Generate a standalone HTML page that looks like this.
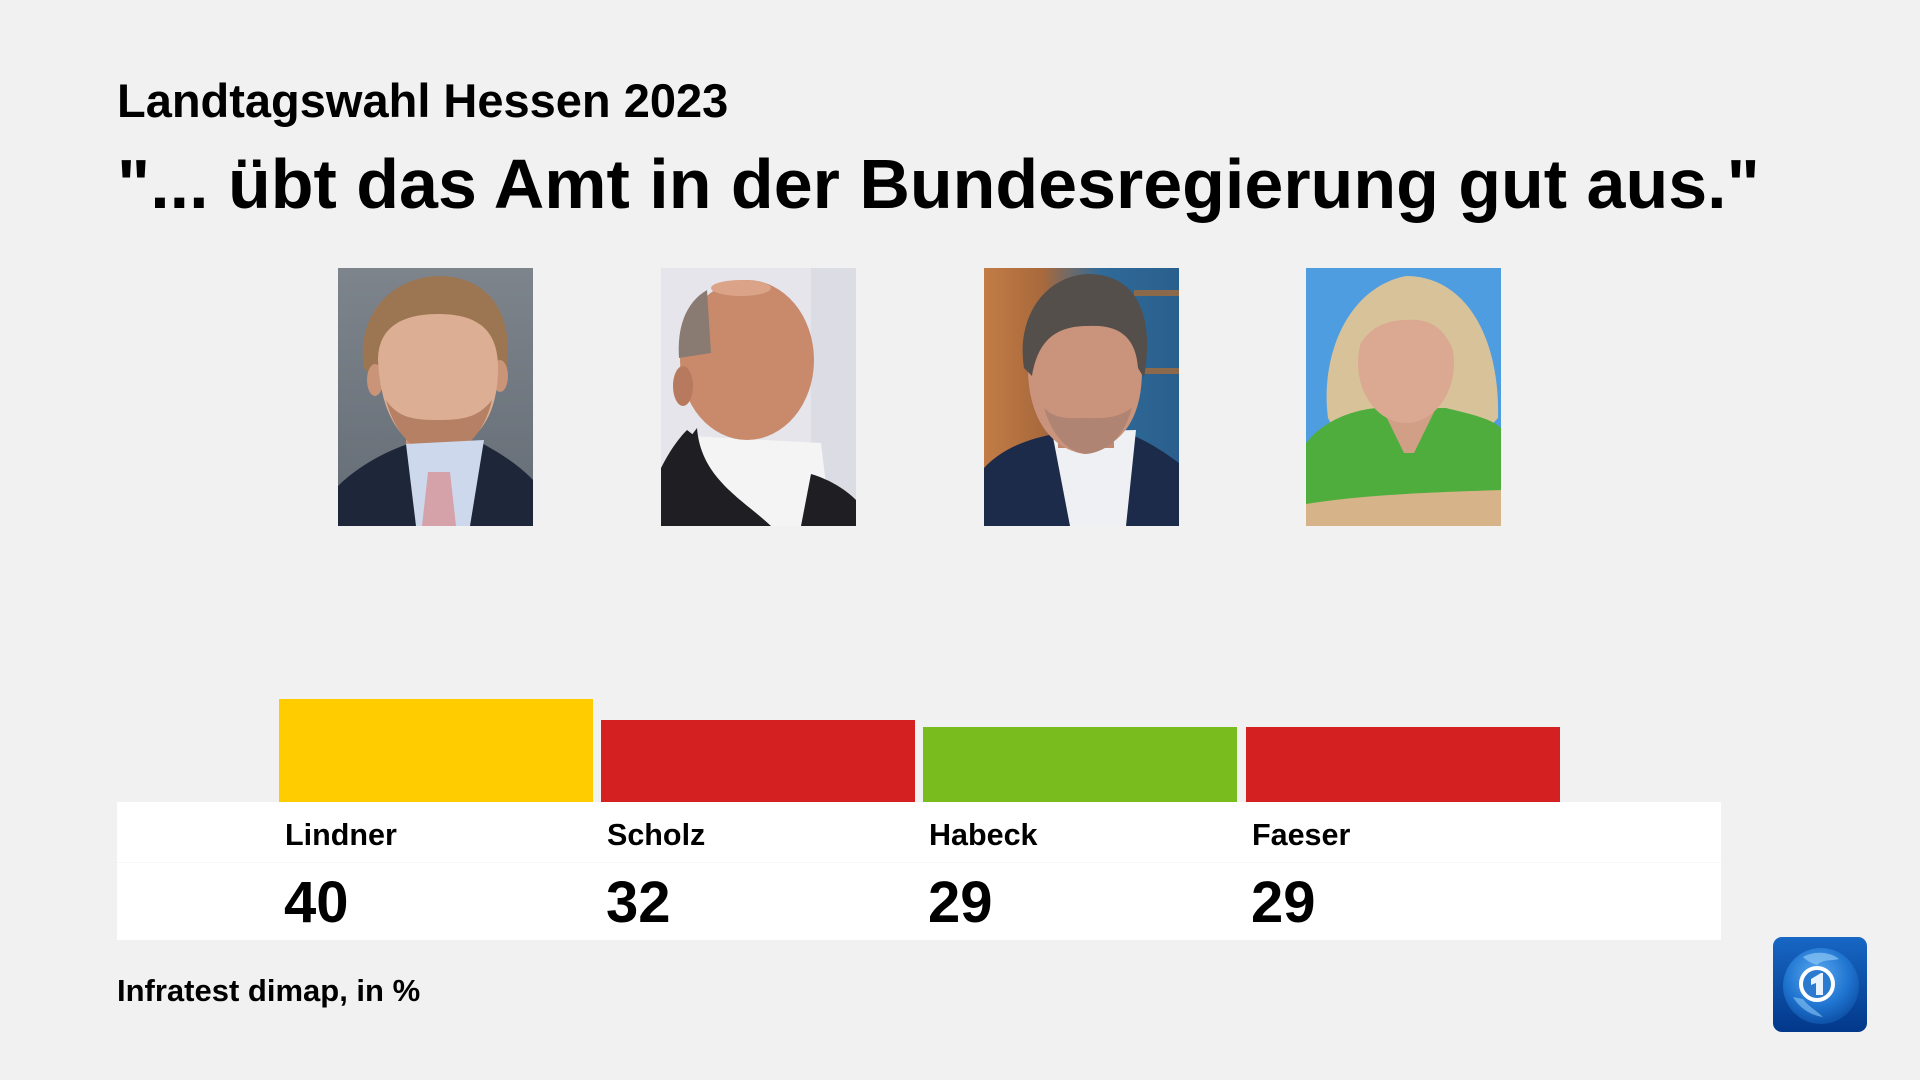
<!DOCTYPE html>
<html>
<head>
<meta charset="utf-8">
<style>
  html,body{margin:0;padding:0;}
  body{width:1920px;height:1080px;background:#f1f1f1;position:relative;overflow:hidden;font-family:"Liberation Sans",Arial,sans-serif;color:#000;}
  .t{position:absolute;white-space:nowrap;font-weight:bold;}
  .ph{position:absolute;top:268px;width:195px;height:258px;}
  .bar{position:absolute;width:314px;}
</style>
</head>
<body>

<div class="t" style="left:117px;top:77px;font-size:47px;line-height:47px;">Landtagswahl Hessen 2023</div>
<div class="t" style="left:117px;top:149px;font-size:70px;line-height:70px;">"... übt das Amt in der Bundesregierung gut aus."</div>

<!-- Lindner photo -->
<svg class="ph" style="left:338px" viewBox="0 0 195 258" width="195" height="258">
  <defs><linearGradient id="lbg" x1="0" y1="0" x2="0" y2="1"><stop offset="0" stop-color="#7d848c"/><stop offset="1" stop-color="#646c75"/></linearGradient></defs>
  <rect width="195" height="258" fill="url(#lbg)"/>
  <path d="M26 100 C18 50 50 10 100 8 C150 8 178 45 168 105 L160 112 C156 80 140 58 100 56 C64 56 44 80 38 112 Z" fill="#9c7652"/>
  <ellipse cx="37" cy="112" rx="8" ry="16" fill="#c99478"/>
  <ellipse cx="162" cy="108" rx="8" ry="16" fill="#c99478"/>
  <rect x="68" y="158" width="58" height="30" fill="#c99478"/>
  <path d="M40 92 C40 58 66 46 100 46 C140 46 160 62 160 100 C160 140 146 176 100 186 C60 180 42 140 40 92 Z" fill="#dcae93"/>
  <path d="M48 132 C58 170 80 186 100 188 C126 186 146 166 154 132 C140 150 124 152 100 152 C76 152 60 150 48 132 Z" fill="#b58064"/>
  <path d="M0 218 C22 196 52 182 70 176 L96 258 L0 258 Z" fill="#1e2739"/>
  <path d="M195 212 C176 192 152 180 142 174 L112 258 L195 258 Z" fill="#1e2739"/>
  <polygon points="68,176 146,172 132,258 78,258" fill="#cdd8ec"/>
  <polygon points="90,204 112,204 118,258 84,258" fill="#d6a2aa"/>
</svg>

<!-- Scholz photo -->
<svg class="ph" style="left:661px" viewBox="0 0 195 258" width="195" height="258">
  <rect width="195" height="258" fill="#e5e5eb"/>
  <rect x="150" y="0" width="45" height="258" fill="#dcdce4"/>
  <path d="M0 258 L0 200 C10 180 20 168 26 162 L150 258 Z" fill="#1f1f23"/>
  <path d="M30 168 L160 175 L170 258 L80 258 Z" fill="#f4f4f4"/>
  <path d="M150 206 C170 212 185 222 195 232 L195 258 L140 258 Z" fill="#1f1f23"/>
  <path d="M36 160 C40 210 80 230 110 258 L60 258 C40 230 30 200 30 168 Z" fill="#1f1f23"/>
  <ellipse cx="86" cy="92" rx="67" ry="80" fill="#c98a6c"/>
  <path d="M18 90 C16 60 24 35 46 22 L50 85 Z" fill="#8a7b72"/>
  <ellipse cx="22" cy="118" rx="10" ry="20" fill="#b87a5e"/>
  <ellipse cx="80" cy="20" rx="30" ry="8" fill="#dba488"/>
</svg>

<!-- Habeck photo -->
<svg class="ph" style="left:984px" viewBox="0 0 195 258" width="195" height="258">
  <defs><linearGradient id="hbg" x1="0" y1="0" x2="1" y2="0"><stop offset="0" stop-color="#c27c46"/><stop offset="0.3" stop-color="#a9693c"/><stop offset="0.6" stop-color="#2f6a99"/><stop offset="1" stop-color="#2a5f8d"/></linearGradient></defs>
  <rect width="195" height="258" fill="url(#hbg)"/>
  <rect x="150" y="22" width="45" height="6" fill="#8a6a4a"/>
  <rect x="150" y="100" width="45" height="6" fill="#8a6a4a"/>
  <path d="M0 200 C20 178 50 170 70 166 L92 258 L0 258 Z" fill="#1d2b4a"/>
  <path d="M195 195 C175 180 160 172 150 168 L130 258 L195 258 Z" fill="#1d2b4a"/>
  <polygon points="68,164 152,162 142,258 86,258" fill="#eef0f4"/>
  <rect x="74" y="150" width="56" height="30" fill="#c0886f"/>
  <path d="M44 100 C44 60 66 40 102 40 C138 40 160 60 158 102 C158 146 142 178 100 186 C64 180 44 146 44 100 Z" fill="#c9937c"/>
  <path d="M40 100 C32 50 60 8 104 6 C148 6 172 40 160 110 L154 100 C152 70 136 56 104 58 C72 58 54 72 48 108 Z" fill="#544f4b"/>
  <path d="M60 140 C70 172 86 184 102 186 C124 184 140 168 148 140 C130 152 116 150 102 150 C86 150 72 152 60 140 Z" fill="#b08472"/>
</svg>

<!-- Faeser photo -->
<svg class="ph" style="left:1306px" viewBox="0 0 195 258" width="195" height="258">
  <rect width="195" height="258" fill="#4e9de1"/>
  <path d="M22 150 C14 90 40 20 100 8 C160 8 194 70 192 150 L178 165 L30 165 Z" fill="#d8c29a"/>
  <path d="M0 175 C20 150 50 142 70 140 L140 140 C160 145 185 150 195 160 L195 258 L0 258 Z" fill="#4fad3d"/>
  <path d="M76 140 L130 140 L108 185 L98 185 Z" fill="#d19e86"/>
  <ellipse cx="100" cy="95" rx="48" ry="60" fill="#dba991"/>
  <path d="M52 80 C55 40 80 26 104 26 C132 28 148 50 150 90 C140 60 125 50 100 52 C80 52 62 60 52 80 Z" fill="#d8c29a"/>
  <path d="M0 236 C60 226 140 224 195 222 L195 258 L0 258 Z" fill="#d6b389"/>
</svg>

<!-- bars -->
<div class="bar" style="left:279px;top:699px;height:103px;background:#ffcc00;"></div>
<div class="bar" style="left:601px;top:720px;height:82px;background:#d42020;"></div>
<div class="bar" style="left:923px;top:727px;height:75px;background:#78bc1e;"></div>
<div class="bar" style="left:1246px;top:727px;height:75px;background:#d42020;"></div>

<!-- white label box -->
<div style="position:absolute;left:117px;top:802px;width:1604px;height:138px;background:#fff;"></div>
<div style="position:absolute;left:117px;top:862px;width:1604px;height:1px;background:#f7f7f7;"></div>

<div class="t" style="left:285px;top:820px;font-size:30.5px;line-height:30px;">Lindner</div>
<div class="t" style="left:607px;top:820px;font-size:30.5px;line-height:30px;">Scholz</div>
<div class="t" style="left:929px;top:820px;font-size:30.5px;line-height:30px;">Habeck</div>
<div class="t" style="left:1252px;top:820px;font-size:30.5px;line-height:30px;">Faeser</div>

<div class="t" style="left:284px;top:874px;font-size:58px;line-height:58px;">40</div>
<div class="t" style="left:606px;top:874px;font-size:58px;line-height:58px;">32</div>
<div class="t" style="left:928px;top:874px;font-size:58px;line-height:58px;">29</div>
<div class="t" style="left:1251px;top:874px;font-size:58px;line-height:58px;">29</div>

<div class="t" style="left:117px;top:975px;font-size:31px;line-height:31px;">Infratest dimap, in %</div>

<!-- logo -->
<svg style="position:absolute;left:1773px;top:937px;" width="94" height="95" viewBox="0 0 94 95">
  <defs>
    <linearGradient id="lg" x1="0" y1="0" x2="0" y2="1"><stop offset="0" stop-color="#1767c4"/><stop offset="1" stop-color="#02388a"/></linearGradient>
    <radialGradient id="gl" cx="0.45" cy="0.35" r="0.7"><stop offset="0" stop-color="#5aaaf0"/><stop offset="0.6" stop-color="#1f74d0"/><stop offset="1" stop-color="#0b4aa0"/></radialGradient>
  </defs>
  <rect width="94" height="95" rx="9" fill="url(#lg)"/>
  <circle cx="48" cy="49" r="38" fill="url(#gl)"/>
  <path d="M30 20 C40 14 56 14 66 22 C58 24 50 22 44 28 C38 26 34 24 30 20 Z" fill="#8cc6f5" opacity="0.7"/>
  <path d="M20 60 C26 70 36 78 50 80 C44 74 36 70 30 62 Z" fill="#8cc6f5" opacity="0.6"/>
  <circle cx="44" cy="47" r="16" fill="#2a7ad0" stroke="#fff" stroke-width="4"/>
  <path d="M38 42 L48 36 L50 36 L50 58 L43 58 L43 46 L38 48 Z" fill="#e8f3ff"/>
</svg>

</body>
</html>
